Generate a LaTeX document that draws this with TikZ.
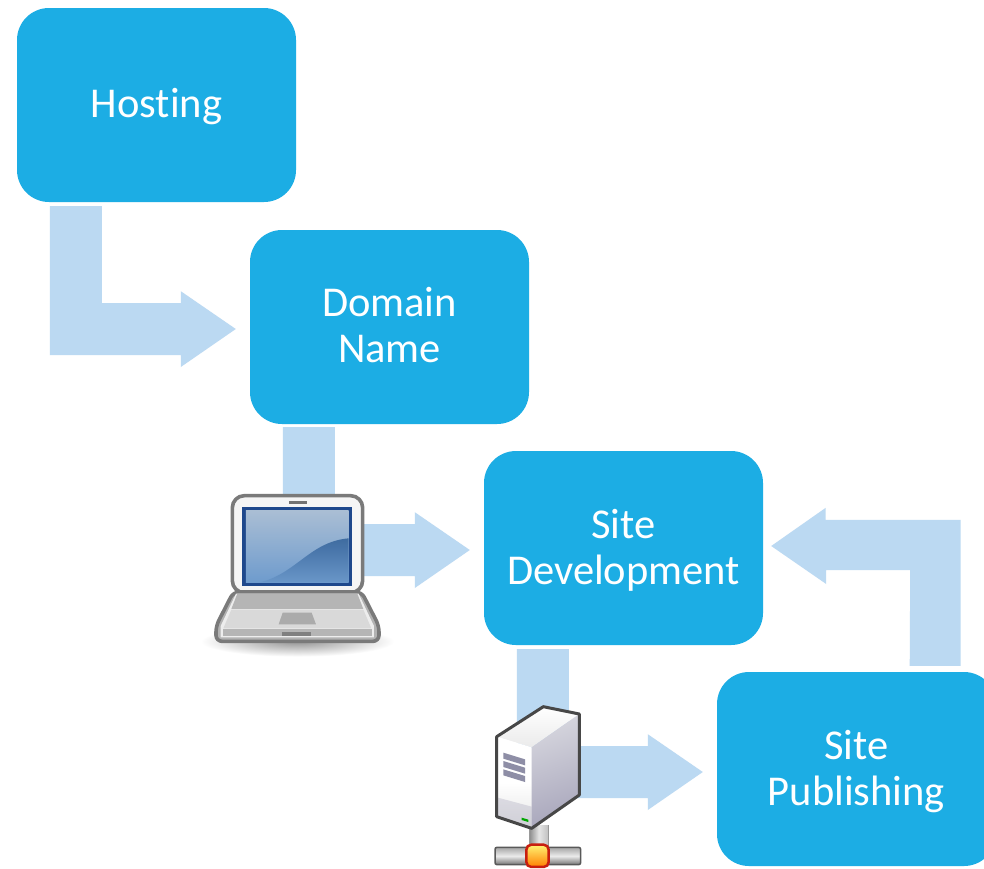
\documentclass[tikz,border=0pt]{standalone}
\usepackage{fontspec}
\setmainfont{Carlito}[RawFeature={-liga}]
\usetikzlibrary{calc}
\definecolor{boxblue}{HTML}{1CADE4}
\definecolor{flowblue}{HTML}{BBD9F2}
\definecolor{ventgrey}{HTML}{8E8EA6}
\definecolor{sidetop}{HTML}{D6D6DE}
\definecolor{sidelow}{HTML}{A9A7BC}
\newcommand{\lowerby}[2]{\raisebox{-#1}[\height][\depth]{#2}}
\tikzset{
  stage/.style={draw=none,fill=boxblue,rounded corners=32pt,minimum width=279pt,minimum height=194pt,
    text=white,align=center,inner sep=0pt,font=\fontsize{42.5}{46}\selectfont},
  flow/.style={fill=flowblue,draw=none},
  lapline/.style={draw=black!52,line width=3.6pt,line join=round},
  srvline/.style={draw=black!72,line width=3pt,line join=round}
}
\begin{document}
\begin{tikzpicture}[x=1pt,y=-1pt]
\useasboundingbox (0,0) rectangle (984,868);
\fill[white] (0,0) rectangle (984,868);
\node[stage] (hosting) at (156.5,105) {\lowerby{2pt}{Hosting}};
\node[stage] (domain) at (389.5,327) {\lowerby{-2pt}{Domain}\\\lowerby{-2pt}{Name}};
\node[stage] (dev) at (623.5,548) {\lowerby{2pt}{Site}\\\lowerby{2pt}{Development}};
\begin{scope}
\clip (0,0) rectangle (984,868);
\node[stage] (pub) at (856.5,769) {\lowerby{3pt}{Site}\\\lowerby{3pt}{Publishing}};
\end{scope}
% connector ends
\coordinate (s1) at ($(hosting.south west)+(33,4)$);
\coordinate (t1) at ($(domain.west)+(-14,2)$);
\coordinate (s2) at ($(domain.south west)+(33,3)$);
\coordinate (t2) at ($(dev.west)+(-14,2)$);
\coordinate (s3) at ($(dev.south west)+(33,4)$);
\coordinate (t3) at ($(pub.west)+(-14,3)$);
\coordinate (s4) at ($(pub.north east)+(-86.5,-6)$);
\coordinate (t4) at ($(dev.east)+(8,-2)$);
\fill[flow] (s1) -- ++(52,0) -- ++(0,97) -- ++(79,0) -- ++(0,-12) -- (t1) -- ++(-55,38) -- ++(0,-12) -- ++(-131,0) -- cycle;
\fill[flow] (s2) -- ++(52,0) -- ++(0,97) -- ++(80,0) -- ++(0,-12) -- (t2) -- ++(-55,38) -- ++(0,-12) -- ++(-132,0) -- cycle;
\fill[flow] (s3) -- ++(52,0) -- ++(0,97) -- ++(79,0) -- ++(0,-12) -- (t3) -- ++(-55,38) -- ++(0,-12) -- ++(-131,0) -- cycle;
\fill[flow] (s4) -- ++(51,0) -- ++(0,-146) -- ++(-135,0) -- ++(0,-12) -- (t4) -- ++(55,38) -- ++(0,-14) -- ++(84,0) -- cycle;
% laptop
\begin{scope}[shift={(200,480)},x=0.3333pt,y=-0.3333pt]
  \shade[inner color=black!42,outer color=white] (292,484) ellipse [x radius=290,y radius=46];
  \draw[lapline,fill=white!96!black,rounded corners=12pt] (97,338) -- (97,47) -- (488,47) -- (488,338) -- cycle;
  \fill[black!55] (267,64) rectangle (321,72);
  \fill[fill={rgb,255:red,30;green,72;blue,140}] (127,80) rectangle (457,317);
  \shade[top color={rgb,255:red,170;green,190;blue,212},bottom color={rgb,255:red,110;green,155;blue,205}] (138,91) rectangle (446,307);
  \shade[top color={rgb,255:red,62;green,107;blue,160},bottom color={rgb,255:red,105;green,150;blue,200}]
    (180,307) .. controls (290,280) and (330,185) .. (446,175) -- (446,307) -- cycle;
  \draw[lapline,fill=black!30,rounded corners=6pt] (100,336) -- (485,336) -- (537,438) -- (537,484) -- (48,484) -- (48,438) -- cycle;
  \fill[black!7] (108,341) -- (476,341) -- (522,438) -- (522,472) -- (62,472) -- (62,438) -- cycle;
  \fill[black!29] (112,341) -- (472,341) -- (490,387) -- (94,387) -- cycle;
  \fill[black!15] (94,389) -- (490,389) -- (514,445) -- (70,445) -- cycle;
  \fill[black!33] (248,398) -- (335,398) -- (348,433) -- (236,433) -- cycle;
  \fill[black!29] (68,446) rectangle (516,468);
  \fill[black!50] (245,457) rectangle (333,469);
\end{scope}
% server
\begin{scope}[shift={(480,690)},x=0.3333pt,y=-0.3333pt]
  \shade[left color=black!45,right color=black!25,middle color=black!10] (148,405) rectangle (205,475);
  \draw[black!40,line width=1pt] (148,405) -- (148,475) (205,405) -- (205,475);
  \shade[top color=black!35,bottom color=black!55,middle color=black!8,draw=black!65,line width=1.5pt,rounded corners=2pt] (45,472) rectangle (302,524);
  \shade[top color=white,bottom color=black!8] (50,140) -- (190,50) -- (298,72) -- (155,172) -- cycle;
  \shade[top color=white,bottom color=black!10,middle color=white] (50,140) -- (155,172) -- (155,415) -- (50,380) -- cycle;
  \shade[top color=sidetop,bottom color=sidelow,shading angle=20] (155,172) -- (298,72) -- (298,315) -- (155,415) -- cycle;
  \fill[sidelow,opacity=.35] (50,322) -- (155,350) -- (155,415) -- (50,380) -- cycle;
  \draw[srvline] (50,140) -- (190,50) -- (298,72) -- (298,315) -- (155,415) -- (50,380) -- cycle;
  \fill[ventgrey] (70,188) -- (135,208) -- (135,226) -- (70,206) -- cycle;
  \fill[ventgrey] (70,213) -- (135,233) -- (135,251) -- (70,231) -- cycle;
  \fill[ventgrey] (70,238) -- (135,258) -- (135,276) -- (70,256) -- cycle;
  \fill[green!65!black] (125,383) -- (145,389) -- (145,396) -- (125,390) -- cycle;
  \shade[top color=yellow!50!white!90!orange,bottom color=orange,draw={rgb,255:red,200;green,30;blue,15},line width=2.5pt,rounded corners=5pt] (139,464) rectangle (206,531);
\end{scope}
\end{tikzpicture}
\end{document}
